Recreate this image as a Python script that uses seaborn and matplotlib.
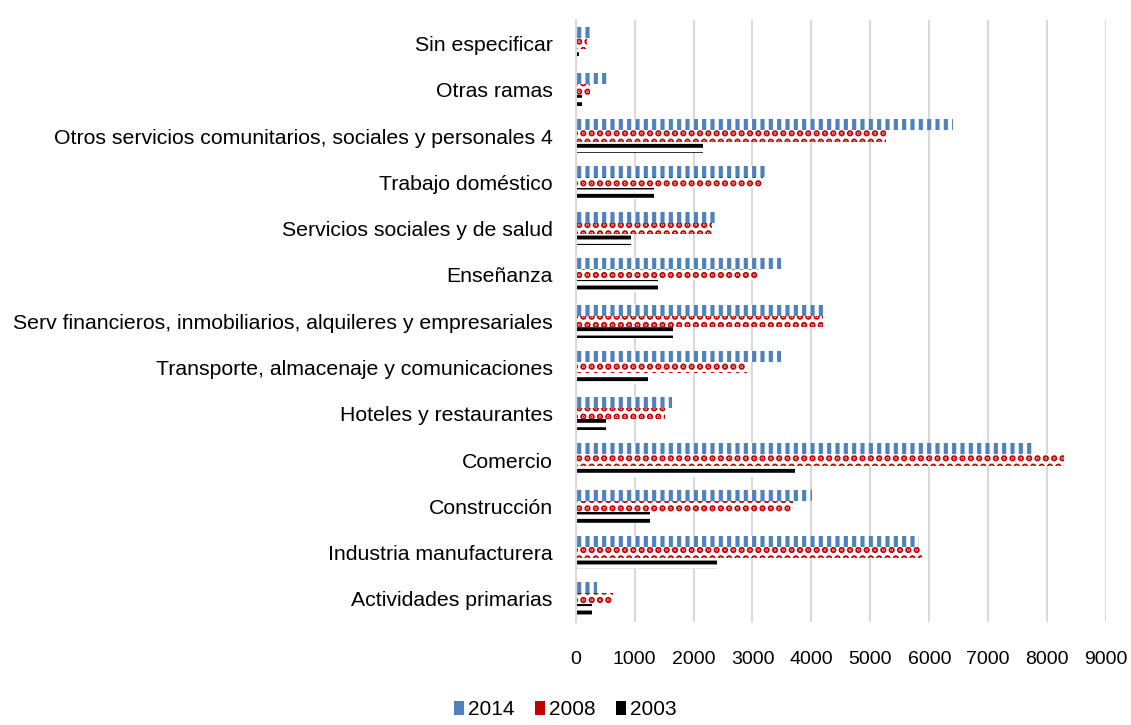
import matplotlib
matplotlib.use("Agg")
import matplotlib.pyplot as plt
import seaborn as sns
import pandas as pd
from matplotlib.patches import Patch

categories = [
    "Sin especificar",
    "Otras ramas",
    "Otros servicios comunitarios, sociales y personales 4",
    "Trabajo doméstico",
    "Servicios sociales y de salud",
    "Enseñanza",
    "Serv financieros, inmobiliarios, alquileres y empresariales",
    "Transporte, almacenaje y comunicaciones",
    "Hoteles y restaurantes",
    "Comercio",
    "Construcción",
    "Industria manufacturera",
    "Actividades primarias",
]
years = ["2014", "2008", "2003"]
v2014 = [300, 540, 6410, 3230, 2400, 3490, 4220, 3490, 1630, 7740, 4010, 5830, 370]
v2008 = [200, 240, 5260, 3180, 2310, 3100, 4200, 2910, 1510, 8280, 3690, 5880, 640]
v2003 = [50, 100, 2160, 1330, 940, 1390, 1650, 1220, 510, 3720, 1260, 2400, 270]
xticks = [0, 1000, 2000, 3000, 4000, 5000, 6000, 7000, 8000, 9000]

rows = []
for y, vals in zip(years, [v2014, v2008, v2003]):
    for c, v in zip(categories, vals):
        rows.append({"cat": c, "year": y, "value": v})
df = pd.DataFrame(rows)

sns.set_theme(style="white")
plt.rcParams["font.family"] = ["Liberation Sans", "DejaVu Sans"]
plt.rcParams["text.color"] = "black"

fig = plt.figure(figsize=(11.31, 7.25), dpi=100)
ax = fig.add_axes([0.509, 0.142, 0.469, 0.830])

styles = {
    "2014": dict(color="#4F81BD", hatch="||", hlw=3.0),
    "2008": dict(color="#C00000", hatch="..", hlw=3.2),
    "2003": dict(color="#000000", hatch="--", hlw=2.8),
}

sns.barplot(data=df, y="cat", x="value", hue="year", hue_order=years,
            order=categories, orient="h", width=0.72, ax=ax,
            palette=["white"] * 3, legend=False, saturation=1)

for cont, y in zip(ax.containers, years):
    st = styles[y]
    for p in cont:
        p.set_facecolor("white")
        p.set_edgecolor(st["color"])
        p.set_linewidth(0)
        p.set_hatch(st["hatch"])
        if hasattr(p, "set_hatch_linewidth"):
            p.set_hatch_linewidth(st["hlw"])

ax.set_xlim(0, 9000)
ax.set_xticks(xticks)
ax.set_xticklabels([str(t) for t in xticks], fontsize=14, color="black")
ax.tick_params(axis="x", length=0, pad=21)
ax.tick_params(axis="y", length=0, pad=16.5, labelsize=15.3, labelcolor="black")
ax.xaxis.grid(True, color="#D9D9D9", linewidth=1.5)
ax.set_axisbelow(True)
for s in ["top", "right", "bottom"]:
    ax.spines[s].set_visible(False)
ax.spines["left"].set_color("#D9D9D9")
ax.spines["left"].set_linewidth(1.5)
ax.set_xlabel("")
ax.set_ylabel("")

handles = []
for y in years:
    h = Patch(facecolor=styles[y]["color"], edgecolor=styles[y]["color"], linewidth=0)
    handles.append(h)
fig.legend(handles, years, loc="lower center", bbox_to_anchor=(0.5, -0.018), ncol=3,
           frameon=False, fontsize=15, handlelength=0.45, handleheight=0.6,
           columnspacing=1.0, handletextpad=0.2, labelcolor="black")

fig.savefig("out.png", dpi=100)
